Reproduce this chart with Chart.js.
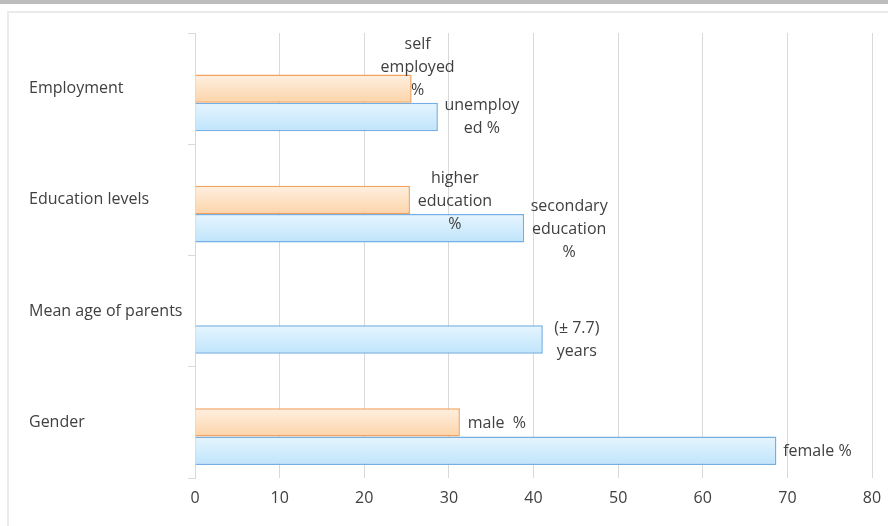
<!DOCTYPE html>
<html>
<head>
<meta charset="utf-8">
<script src="https://cdn.jsdelivr.net/npm/chart.js@4/dist/chart.umd.min.js"></script>
<style>
  html, body { margin: 0; padding: 0; background: #ffffff; }
  #wrap { width: 888px; height: 526px; }
</style>
</head>
<body>
<div id="wrap"><canvas id="c" width="888" height="526"></canvas></div>
<script>
// Categories, top to bottom
const categories = ['Employment', 'Education levels', 'Mean age of parents', 'Gender'];

// Series values (%, or years for mean age)
const orangeValues = [25.6, 25.4, null, 31.3];
const blueValues = [28.7, 38.9, 41.1, 68.7];
const spacerValues = [null, null, null, null];

// Text shown beside each bar
const orangeLabels = [['self', 'employed', '%'], ['higher', 'education', '%'], null, ['male  %']];
const blueLabels = [['unemploy', 'ed %'], ['secondary', 'education', '%'], ['(\u00b1 7.7)', 'years'], ['female %']];

// Axis ticks
const xTicks = [0, 10, 20, 30, 40, 50, 60, 70, 80];

// Placement of the bar labels relative to the bar end (centre of text block)
const orangeLabelOffsets = [[6, -21], [45, 2], null, [37, 1]];
const blueLabelOffsets = [[44, 0], [45, 1], [34, 0], [41, 1]];

const FONT = '"Open Sans", "DejaVu Sans", sans-serif';
const TEXT = '#404040';
const GRID = '#d9d9d9';
const CAT_PCT = 0.765;
const N_SETS = 3;

// Vertical gradient fill for one bar, located through the category scale
function barGradient(top, bottom) {
  return (context) => {
    const chart = context.chart;
    const y = chart.scales && chart.scales.y;
    if (!y || context.dataIndex == null || !chart.chartArea) return bottom;
    const catSize = (y.bottom - y.top) / categories.length;
    const barSize = catSize * CAT_PCT / N_SETS;
    const centre = y.getPixelForValue(context.dataIndex) + (context.datasetIndex - (N_SETS - 1) / 2) * barSize;
    const g = chart.ctx.createLinearGradient(0, centre - barSize / 2, 0, centre + barSize / 2);
    g.addColorStop(0, top);
    g.addColorStop(1, bottom);
    return g;
  };
}

const framePlugin = {
  id: 'frame',
  beforeDraw(chart) {
    const ctx = chart.ctx;
    ctx.save();
    ctx.fillStyle = '#ffffff';
    ctx.fillRect(0, 0, chart.width, chart.height);
    ctx.fillStyle = '#bdbdbd';
    ctx.fillRect(0, 0, chart.width, 4);
    ctx.fillStyle = '#ebebeb';
    ctx.fillRect(7, 11, chart.width - 7, 2);
    ctx.fillRect(7, 11, 2, chart.height - 11);
    ctx.restore();
  }
};

const barLabelPlugin = {
  id: 'barLabels',
  afterDatasetsDraw(chart) {
    const ctx = chart.ctx;
    ctx.save();
    ctx.font = '16px ' + FONT;
    ctx.fillStyle = TEXT;
    ctx.textAlign = 'center';
    ctx.textBaseline = 'middle';
    const lineH = 23;
    const sets = [
      { ds: 1, labels: orangeLabels, offs: orangeLabelOffsets },
      { ds: 2, labels: blueLabels, offs: blueLabelOffsets }
    ];
    sets.forEach(s => {
      const meta = chart.getDatasetMeta(s.ds);
      meta.data.forEach((bar, i) => {
        const lines = s.labels[i];
        const off = s.offs[i];
        if (!lines || !off || chart.data.datasets[s.ds].data[i] == null) return;
        const cx = bar.x + off[0];
        const cy = bar.y + off[1];
        const top = cy - (lines.length - 1) * lineH / 2;
        lines.forEach((t, k) => ctx.fillText(t, cx, top + k * lineH));
      });
    });
    ctx.restore();
  }
};

new Chart(document.getElementById('c'), {
  type: 'bar',
  data: {
    labels: categories,
    datasets: [
      {
        label: 'spacer',
        data: spacerValues,
        backgroundColor: 'rgba(0,0,0,0)'
      },
      {
        label: 'orange',
        data: orangeValues,
        backgroundColor: barGradient('#fef0e1', '#fcd4a9'),
        borderColor: '#f2a25e',
        borderWidth: 1.5
      },
      {
        label: 'blue',
        data: blueValues,
        backgroundColor: barGradient('#e6f5fe', '#bfe4fb'),
        borderColor: '#74aee3',
        borderWidth: 1.5
      }
    ]
  },
  options: {
    indexAxis: 'y',
    responsive: false,
    animation: false,
    devicePixelRatio: 1,
    layout: { padding: { left: 29, right: 16, top: 33, bottom: 0 } },
    categoryPercentage: CAT_PCT,
    barPercentage: 1,
    plugins: {
      legend: { display: false },
      tooltip: { enabled: false }
    },
    scales: {
      x: {
        min: 0,
        max: 80,
        afterBuildTicks(scale) { scale.ticks = xTicks.map(v => ({ value: v })); },
        afterFit(scale) {
          scale.height = 48;
          scale.paddingLeft = 0;
          scale.paddingRight = 0;
        },
        grid: { color: GRID, lineWidth: 1, drawTicks: false },
        border: { display: false },
        ticks: {
          padding: 11,
          color: TEXT,
          font: { family: FONT, size: 16 }
        }
      },
      y: {
        afterFit(scale) { scale.width = 166; },
        grid: {
          offset: true,
          drawOnChartArea: false,
          color: GRID,
          tickLength: 7
        },
        border: { display: true, color: GRID, width: 1 },
        ticks: {
          crossAlign: 'far',
          color: TEXT,
          font: { family: FONT, size: 16 }
        }
      }
    }
  },
  plugins: [framePlugin, barLabelPlugin]
});
</script>
</body>
</html>
